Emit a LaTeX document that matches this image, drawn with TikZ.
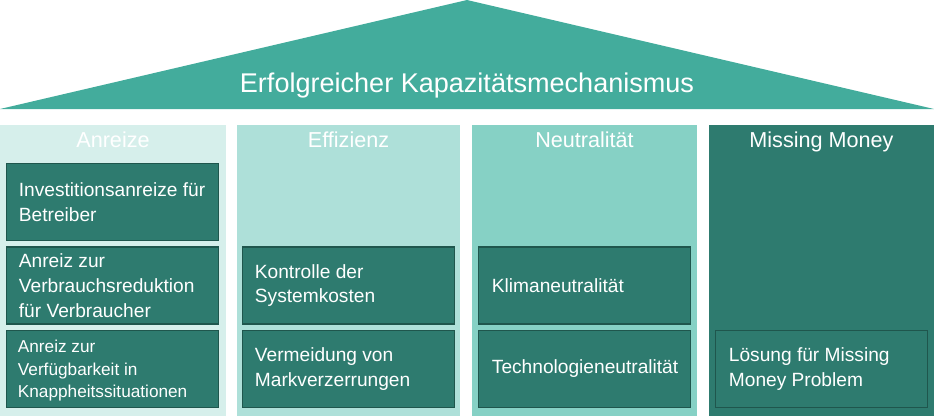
\documentclass[tikz,border=0pt]{standalone}
\usepackage{fontspec}
\setmainfont{Liberation Sans}
\usetikzlibrary{positioning}
\definecolor{roofgreen}{RGB}{67,172,156}
\definecolor{colA}{RGB}{214,239,235}
\definecolor{colB}{RGB}{174,224,217}
\definecolor{colC}{RGB}{134,209,197}
\definecolor{colD}{RGB}{46,123,111}
\definecolor{boxfill}{RGB}{46,123,111}
\definecolor{boxedge}{RGB}{31,86,77}
\begin{document}
\begin{tikzpicture}[x=0.02cm,y=-0.02cm,
pbox/.style={draw=boxedge, line width=1.1pt, fill=boxfill,
  minimum width=4.24cm, minimum height=1.54cm, inner sep=0pt},
ptext/.style={text=white, align=left, inner sep=0pt,
  font=\fontsize{10.9}{14.1}\selectfont},
phead/.style={text=white, inner sep=0pt, anchor=base,
  font=\fontsize{12.3}{14}\selectfont}]
\useasboundingbox (0,0) rectangle (934,416);
% roof
\fill[roofgreen] (0,109) -- (467,0) -- (934,109) -- cycle;
\node[text=white, inner sep=0pt, anchor=base,
  font=\fontsize{15.4}{18}\selectfont] (roof) at (467,92)
  {Erfolgreicher Kapazitätsmechanismus};
% pillars
\fill[colA] (0,125) rectangle (226,416);
\fill[colB] (237,125) rectangle (460,416);
\fill[colC] (472,125) rectangle (697,416);
\fill[colD] (709,125) rectangle (934,416);
\node[phead] (hA) at (113,147) {Anreize};
\node[phead] (hB) at (348.5,147) {Effizienz};
\node[phead] (hC) at (584.5,147) {Neutralität};
\node[phead] (hD) at (821.5,147) {Missing Money};
% boxes
\node[pbox] (A1) at (112.5,202) {};
\node[pbox] (A2) at (112.5,285.5) {};
\node[pbox] (A3) at (112.5,369) {};
\node[pbox] (B2) at (348.5,285.5) {};
\node[pbox] (B3) at (348.5,369) {};
\node[pbox] (C2) at (584.5,285.5) {};
\node[pbox] (C3) at (584.5,369) {};
\node[pbox] (D3) at (821.5,369) {};
\node[ptext, right=0.26cm of A1.west] (tA1) {Investitionsanreize für\\Betreiber};
\node[ptext, right=0.26cm of A2.west] (tA2) {Anreiz zur\\Verbrauchsreduktion\\für Verbraucher};
\node[ptext, right=0.24cm of A3.west, yshift=-1pt,
  font=\fontsize{9.8}{12.8}\selectfont] (tA3) {Anreiz zur\\Verfügbarkeit in\\Knappheitssituationen};
\node[ptext, right=0.26cm of B2.west] (tB2) {Kontrolle der\\Systemkosten};
\node[ptext, right=0.26cm of B3.west] (tB3) {Vermeidung von\\Markverzerrungen};
\node[ptext, right=0.28cm of C2.west] (tC2) {Klimaneutralität};
\node[ptext, right=0.28cm of C3.west] (tC3) {Technologieneutralität};
\node[ptext, right=0.28cm of D3.west] (tD3) {Lösung für Missing\\Money Problem};
\end{tikzpicture}
\end{document}
